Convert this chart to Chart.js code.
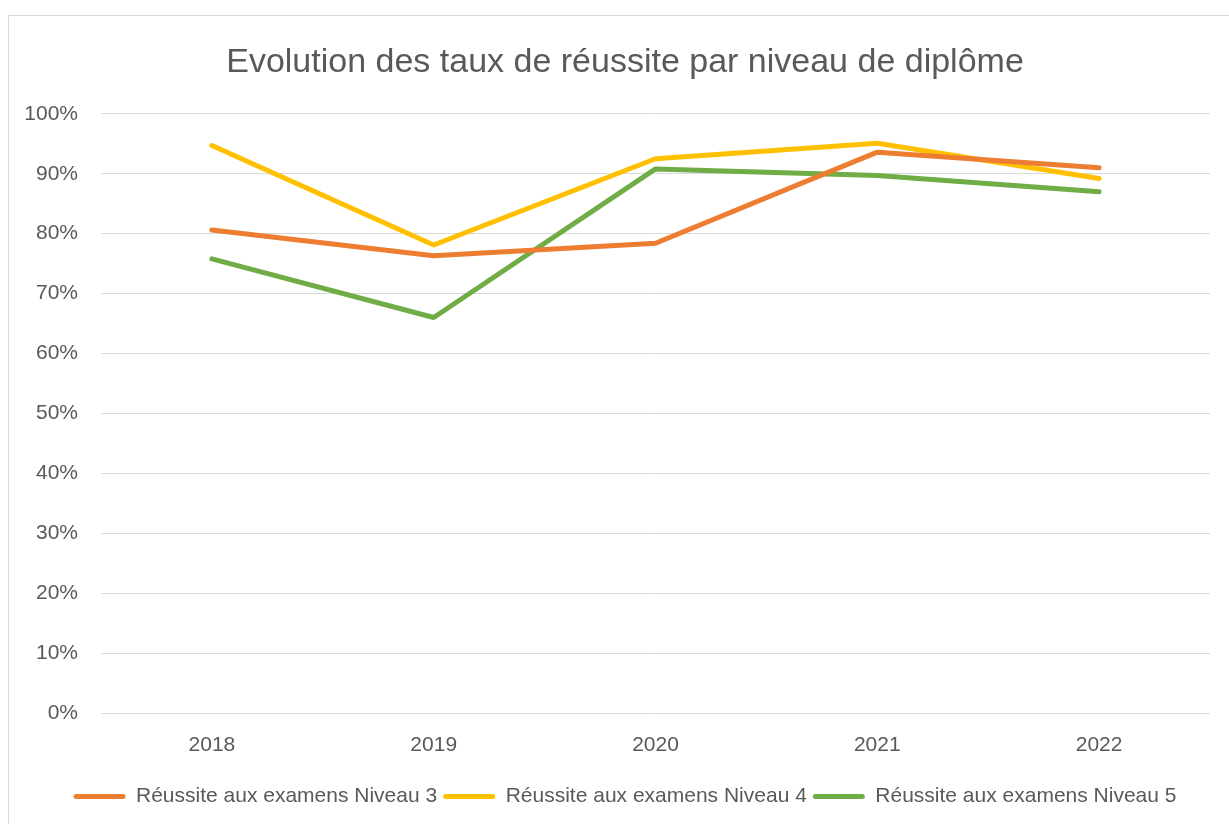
<!DOCTYPE html>
<html>
<head>
<meta charset="utf-8">
<script src="https://cdn.jsdelivr.net/npm/chart.js@4"></script>
<style>
  html, body { margin: 0; padding: 0; background: #fff; overflow: hidden; }
  .chart-wrap { position: absolute; left: 0; top: 0; width: 1242px; height: 824px; }
  .chart-frame { position: absolute; left: 8px; top: 15px; width: 1240px; height: 830px; border: 1px solid #d9d9d9; pointer-events: none; }
</style>
</head>
<body>
<div class="chart-wrap"><canvas class="js-chart" width="1242" height="824"></canvas></div>
<div class="chart-frame"></div>
<script>
const years = ['2018', '2019', '2020', '2021', '2022'];
const niveau3 = [80.6, 76.3, 78.4, 93.6, 91.0];
const niveau4 = [94.7, 78.1, 92.5, 95.1, 89.2];
const niveau5 = [75.8, 66.0, 90.8, 89.7, 87.0];
const seriesLabels = [
  'Réussite aux examens Niveau 3',
  'Réussite aux examens Niveau 4',
  'Réussite aux examens Niveau 5',
];

const textColor = '#595959';
const fontFamily = '"Liberation Sans", Arial, sans-serif';

function lineSet(label, data, color) {
  return {
    label,
    data,
    borderColor: color,
    backgroundColor: color,
    borderWidth: 5,
    borderCapStyle: 'round',
    borderJoinStyle: 'round',
    pointRadius: 0,
    pointHoverRadius: 0,
    tension: 0,
  };
}

const ctx = document.getElementsByClassName('js-chart')[0].getContext('2d');

// eslint-disable-next-line no-unused-vars
const myChart = new Chart(ctx, {
  type: 'line',
  data: {
    labels: years,
    datasets: [
      lineSet(seriesLabels[0], niveau3, '#ED7D31'),
      lineSet(seriesLabels[1], niveau4, '#FFC000'),
      lineSet(seriesLabels[2], niveau5, '#70AD47'),
    ],
  },
  options: {
    responsive: false,
    animation: false,
    layout: {
      padding: { left: 8, right: 0, top: 0, bottom: 7 },
    },
    plugins: {
      title: {
        display: true,
        text: 'Evolution des taux de réussite par niveau de diplôme',
        color: textColor,
        font: { family: fontFamily, size: 34, weight: 'normal' },
        padding: { top: 42, bottom: 31 },
      },
      legend: {
        position: 'bottom',
        labels: {
          color: textColor,
          font: { family: fontFamily, size: 21 },
          boxWidth: 52,
          boxHeight: 5,
          useBorderRadius: true,
          borderRadius: 2.5,
          padding: 6,
          generateLabels(chart) {
            return Chart.defaults.plugins.legend.labels.generateLabels(chart)
              .map((item) => ({ ...item, lineWidth: 0 }));
          },
        },
      },
      tooltip: { enabled: false },
    },
    scales: {
      x: {
        offset: true,
        grid: { display: false, drawTicks: false },
        border: { display: false },
        ticks: {
          color: textColor,
          font: { family: fontFamily, size: 21 },
          padding: 20,
        },
        afterFit(scale) {
          scale.height = 67;
        },
      },
      y: {
        min: 0,
        max: 100,
        grid: { color: '#d9d9d9', lineWidth: 1, drawTicks: false },
        border: { display: false },
        ticks: {
          stepSize: 10,
          color: textColor,
          font: { family: fontFamily, size: 21 },
          padding: 23,
          callback: (v) => v + '%',
        },
        afterFit(scale) {
          scale.width = 93;
        },
      },
      // empty right-hand spacer so the plot ends where the reference's does
      yRight: {
        position: 'right',
        min: 0,
        max: 100,
        grid: { display: false },
        border: { display: false },
        ticks: { display: false },
        afterFit(scale) {
          scale.width = 32;
        },
      },
    },
  },
});
</script>
</body>
</html>
